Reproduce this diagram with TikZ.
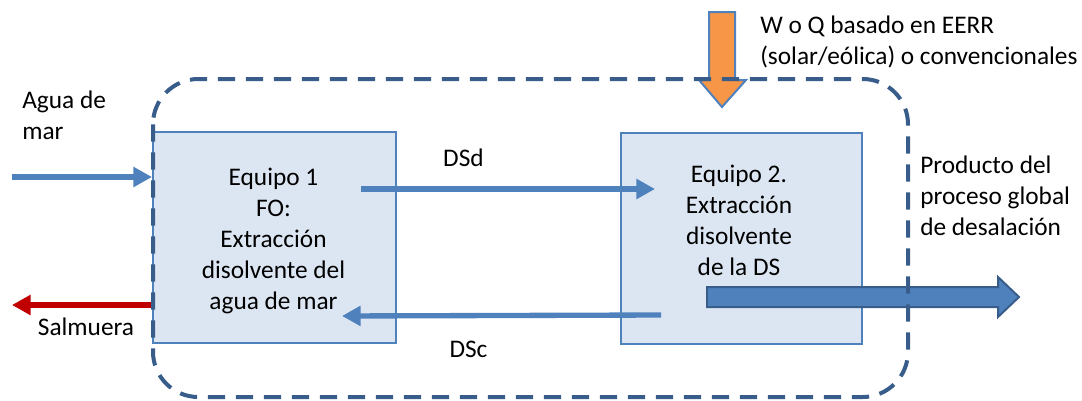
\documentclass[tikz,border=0pt]{standalone}
\usepackage{fontspec}
\setmainfont{Carlito}
\usetikzlibrary{arrows.meta}
\definecolor{flujo}{HTML}{4F81BD}
\definecolor{caja}{HTML}{DCE6F2}
\definecolor{borde}{HTML}{385D8A}
\definecolor{salm}{HTML}{C00000}
\definecolor{energ}{HTML}{F79646}
\begin{document}
\begin{tikzpicture}[x=0.75pt,y=-0.75pt,
  txt/.style={font=\fontsize{19pt}{23.3pt}\selectfont, inner sep=0pt},
  equipo/.style={draw=flujo, line width=1.5pt, fill=caja, rectangle, minimum height=158.25pt},
  flecha/.style={draw=flujo, line width=4pt, -{Triangle[length=14pt,width=14.5pt]}}]
\useasboundingbox (0,0) rectangle (1082,400);

\node(E1)[equipo, minimum width=182.25pt] at (274.5,237.5) {};
\node(E2)[equipo, minimum width=180.75pt] at (741.5,238.5) {};
\node(T1)[txt, align=center] at (273.5,241) {Equipo 1\\FO:\\Extracción\\disolvente del\\agua de mar};
\node(T2)[txt, align=center] at (739,220) {Equipo 2.\\Extracción\\disolvente\\de la DS};

\coordinate(AguaIn) at (12,177);
\coordinate(SalOut) at (12,305);
\coordinate(DSdA) at (361,189);
\coordinate(DSdB) at (655,189);
\coordinate(DScA) at (661,315);
\coordinate(DScB) at (342,316);

\draw (AguaIn) edge[flecha] (E1.west |- AguaIn);
\draw (E1.west |- SalOut) edge[flecha, draw=salm] (SalOut);
\draw (DSdA) edge[flecha] (DSdB);
\draw (DScA) edge[flecha] (DScB);

% producto
\draw[fill=flujo, draw=borde, line width=1.5pt] (707,287) -- (998,287) -- (998,277) -- (1019,297)
  -- (998,317) -- (998,307) -- (707,307) -- cycle;
% energia
\draw[fill=energ, draw=flujo, line width=1.5pt] (709,12) -- (735,12) -- (735,80) -- (746,80)
  -- (722,107) -- (699,80) -- (709,80) -- cycle;

% limite del proceso
\draw[borde, line width=3pt, dash pattern=on 13pt off 8pt, rounded corners=34pt] (153,79) rectangle (908,397);

\node(Agua)[txt, align=left, anchor=west] at (22,115) {Agua de\\mar};
\node(Salm)[txt, anchor=base] at (86,335) {Salmuera};
\node(DSd)[txt, anchor=base] at (463.5,166) {DSd};
\node(DSc)[txt, anchor=base] at (468.5,357) {DSc};
\node(Energia)[txt, align=left, anchor=west] at (760,42) {W o Q basado en EERR\\(solar/eólica) o convencionales};
\node(Prod)[txt, align=left, anchor=west] at (920,196) {Producto del\\proceso global\\de desalación};
\end{tikzpicture}
\end{document}
